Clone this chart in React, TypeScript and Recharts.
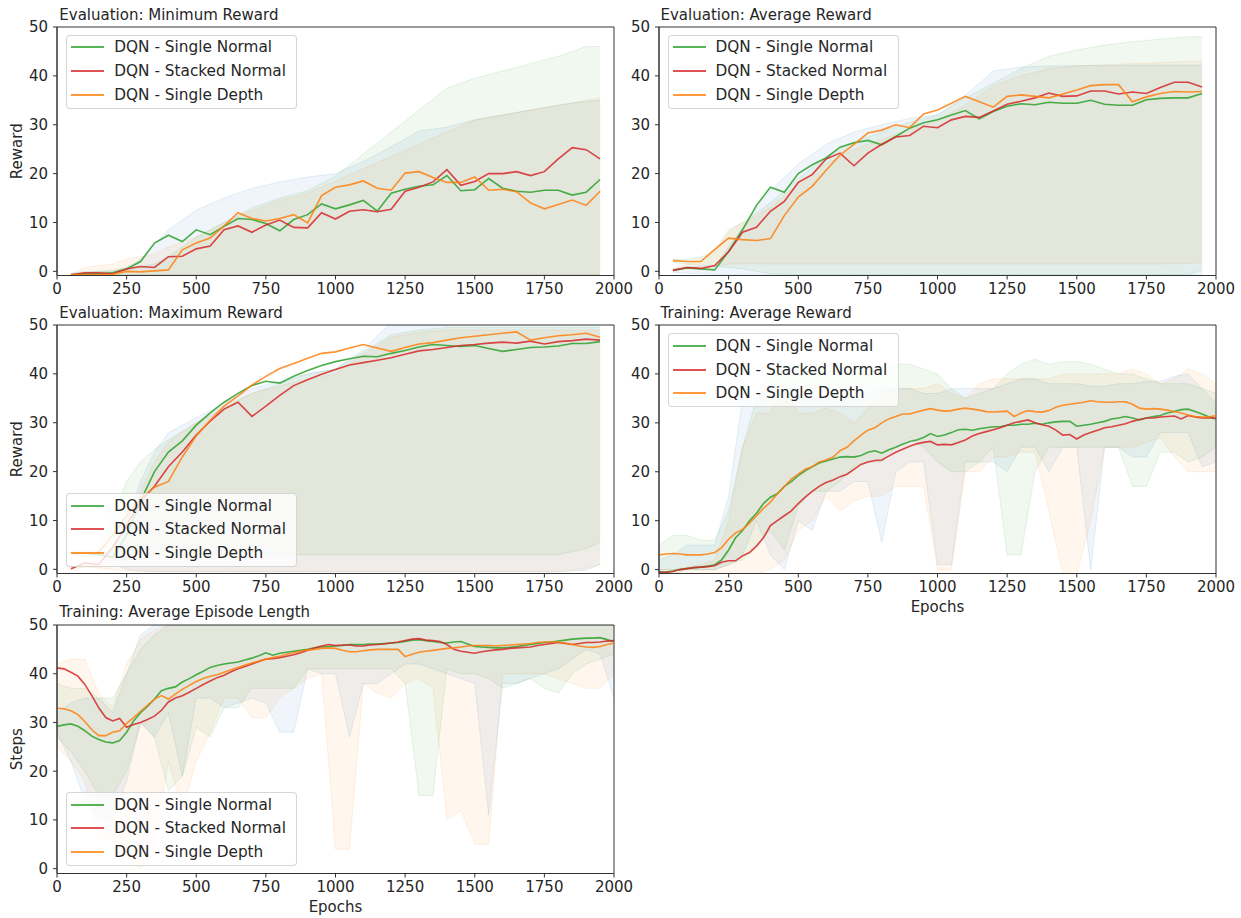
import { ComposedChart, Line, Area, XAxis, YAxis, Legend, ReferenceArea } from "recharts";

const FONT = "'DejaVu Sans', sans-serif";
const TEXT = "#262626";
const AXIS = "#333333";

const SERIES_NAMES = ["DQN - Single Normal", "DQN - Stacked Normal", "DQN - Single Depth"];
const LINE_COLORS = ["#2ca02c", "#d62728", "#ff7f0e"];
const BAND_COLORS = ["#1f77b4", "#ff7f0e", "#2ca02c"];

const X_TICKS = [0, 250, 500, 750, 1000, 1250, 1500, 1750, 2000];
const Y_TICKS = [0, 10, 20, 30, 40, 50];

// evaluation runs: one point every 50 epochs
const EVAL_EPOCHS = [50, 100, 150, 200, 250, 300, 350, 400, 450, 500, 550, 600, 650, 700, 750, 800, 850, 900, 950, 1000, 1050, 1100, 1150, 1200, 1250, 1300, 1350, 1400, 1450, 1500, 1550, 1600, 1650, 1700, 1750, 1800, 1850, 1900, 1950];
const EVAL_BAND_EPOCHS = [50, 100, 150, 200, 250, 300, 350, 400, 500, 600, 700, 800, 900, 1000, 1100, 1200, 1300, 1400, 1500, 1600, 1700, 1800, 1900, 1950];

const MIN_NORMAL = [-0.7, -0.5, -0.5, -0.3, 0.5, 2.0, 5.8, 7.4, 6.1, 8.5, 7.5, 9.2, 10.8, 10.6, 9.8, 8.3, 10.6, 11.6, 13.8, 12.8, 13.6, 14.5, 12.3, 16.0, 16.8, 17.4, 17.7, 19.6, 16.5, 16.7, 19.0, 17.0, 16.4, 16.2, 16.6, 16.6, 15.6, 16.2, 18.8];
const MIN_STACKED = [-0.7, -0.3, -0.3, -0.5, 0.5, 1.0, 0.8, 3.0, 3.1, 4.6, 5.2, 8.5, 9.3, 8.0, 9.5, 10.5, 9.0, 8.9, 12.0, 10.7, 12.3, 12.6, 12.2, 12.7, 16.4, 17.2, 18.3, 20.8, 17.6, 18.4, 20.0, 20.0, 20.4, 19.6, 20.4, 23.0, 25.3, 24.9, 23.0];
const MIN_DEPTH = [-0.7, -0.7, -0.7, -0.6, 0.0, -0.1, 0.1, 0.3, 4.4, 5.8, 6.8, 9.3, 12.0, 10.8, 10.3, 10.8, 11.6, 9.9, 15.5, 17.2, 17.7, 18.5, 17.0, 16.6, 20.1, 20.4, 19.2, 18.2, 18.2, 19.3, 16.6, 16.8, 16.3, 14.0, 12.8, 13.7, 14.6, 13.5, 16.4];
const MIN_NORMAL_HI = [-0.5, 0, 0, 0, 0.8, 2.5, 5.5, 8.5, 12.5, 15, 17, 18.3, 19.3, 20, 22.5, 25.5, 28.7, 29.5, 31, 32, 33, 34, 34.8, 35];
const MIN_STACKED_HI = [-0.5, 0.8, 1.2, 1.5, 2.5, 3, 3.5, 5, 7, 10, 12.5, 14.5, 16, 18.5, 21, 23.5, 26, 28.5, 31, 32, 33, 34, 35, 35.5];
const MIN_DEPTH_HI = [-0.5, -0.3, 0, 0.3, 0.8, 1, 1.5, 3, 7, 10, 13, 15, 16.5, 19.5, 24, 28.5, 33, 37.5, 39.5, 41, 42.5, 44, 46, 46];
const MIN_BAND_LO = [-0.7, -0.7, -0.7, -0.7, -0.7, -0.7, -0.7, -0.7, -0.7, -0.7, -0.7, -0.7, -0.7, -0.7, -0.7, -0.7, -0.7, -0.7, -0.7, -0.7, -0.7, -0.7, -0.7, -0.7];

const AVG_NORMAL = [0.2, 0.7, 0.5, 0.3, 4.1, 8.5, 13.5, 17.2, 16.2, 20.0, 21.8, 23.2, 25.4, 26.3, 26.8, 25.9, 27.6, 29.3, 30.4, 31.0, 32.0, 32.9, 31.2, 32.7, 33.8, 34.3, 34.1, 34.6, 34.4, 34.4, 35.0, 34.2, 34.0, 34.0, 35.1, 35.4, 35.5, 35.5, 36.4];
const AVG_STACKED = [0.2, 0.8, 0.6, 1.2, 4.0, 8.0, 9.0, 12.3, 14.3, 18.2, 19.8, 23.0, 24.2, 21.6, 24.2, 26.0, 27.5, 27.8, 29.7, 29.4, 31.0, 31.7, 31.5, 32.8, 34.2, 34.8, 35.5, 36.5, 35.8, 35.9, 36.9, 36.9, 36.3, 36.7, 36.4, 37.6, 38.7, 38.7, 37.7];
const AVG_DEPTH = [2.2, 2.0, 2.0, 4.5, 6.8, 6.5, 6.3, 6.7, 11.4, 15.2, 17.4, 20.7, 23.8, 26.0, 28.3, 28.9, 30.0, 29.4, 32.2, 33.0, 34.4, 35.8, 34.7, 33.6, 35.8, 36.1, 35.8, 35.5, 36.3, 37.1, 38.0, 38.2, 38.2, 34.7, 35.7, 36.4, 36.8, 36.7, 36.8];
const AVG_NORMAL_HI = [0.5, 1, 1, 1, 5, 9, 13, 16.5, 22, 26, 28.5, 30, 31.3, 32, 36, 41, 41.8, 42, 42.1, 42.1, 42.2, 42.2, 42.2, 42.2];
const AVG_NORMAL_LO = [-0.2, -0.4, -0.5, -0.6, -0.7, -0.7, -0.7, -0.7, -0.7, -0.7, -0.7, -0.7, -0.7, -0.7, -0.7, -0.7, -0.7, -0.7, -0.7, -0.7, -0.7, -0.7, -0.7, -0.7];
const AVG_STACKED_HI = [0.5, 1.5, 2, 4, 8, 10, 11.5, 13, 18, 22, 25, 27, 29, 31, 34, 38, 40, 41.5, 42, 42.3, 42.5, 42.7, 43, 43];
const AVG_STACKED_LO = [0, 0.5, 0.5, 1, 1.5, 1.5, 1.5, 1.5, 1.5, 1.5, 1.5, 1.5, 1.5, 1.5, 1.5, 1.5, 1.5, 1.5, 1.5, 1.5, 1.5, 1.5, 1.6, 1.8];
const AVG_DEPTH_HI = [2.5, 2.5, 3, 4, 8.5, 10, 12, 14, 19, 23.5, 26.5, 28.5, 30.5, 32, 35.5, 38.5, 41.5, 44, 45.3, 46.3, 47, 47.5, 48, 48];
const AVG_DEPTH_LO = [1.8, 1.5, 1.2, 1, 0.8, 0.5, 0, -0.5, -0.7, -0.7, -0.7, -0.7, -0.7, -0.7, -0.7, -0.7, -0.7, -0.7, -0.7, -0.7, -0.7, -0.7, -0.7, 0.2];

const MAX_NORMAL = [3.4, 3.3, 3.0, 2.5, 7.0, 14.0, 20.0, 24.0, 26.3, 29.5, 32.0, 34.2, 36.0, 37.6, 38.5, 38.1, 39.5, 40.7, 41.7, 42.5, 43.1, 43.6, 43.5, 44.2, 44.8, 45.5, 46.0, 45.8, 45.6, 45.8, 45.2, 44.6, 45.0, 45.4, 45.5, 45.7, 46.2, 46.2, 46.6];
const MAX_STACKED = [0.1, 1.3, 1.0, 4.5, 9.0, 14.0, 17.0, 21.0, 24.0, 27.5, 30.3, 32.8, 34.2, 31.3, 33.4, 35.6, 37.6, 38.8, 39.9, 40.9, 41.8, 42.3, 42.8, 43.3, 44.0, 44.7, 45.0, 45.4, 45.8, 46.0, 46.3, 46.5, 46.3, 46.7, 46.1, 46.6, 46.8, 47.1, 46.9];
const MAX_DEPTH = [3.3, 3.3, 3.5, 7.0, 11.0, 14.5, 16.8, 18.0, 23.0, 27.3, 30.5, 33.4, 35.5, 37.7, 39.5, 41.1, 42.1, 43.2, 44.2, 44.5, 45.3, 46.0, 45.3, 44.6, 45.4, 46.1, 46.4, 46.9, 47.4, 47.7, 48.0, 48.3, 48.6, 46.9, 47.4, 47.8, 48.0, 48.3, 47.5];
const MAX_NORMAL_HI = [3.5, 3.5, 3.5, 4, 10, 18, 24, 28, 31, 34, 37, 38.5, 40, 41, 45, 50.5, 50.5, 50.5, 50.5, 50.5, 50.5, 50.5, 50.5, 50.5];
const MAX_NORMAL_LO = [3.2, 3.0, 2.8, 1.0, 0, -0.3, -0.5, -0.5, -0.5, -0.5, -0.5, -0.5, -0.5, -0.5, -0.5, -0.5, -0.5, -0.5, -0.5, -0.5, -0.5, -0.5, -0.2, 1.0];
const MAX_STACKED_HI = [0.5, 1.5, 1.5, 5, 10, 16, 22, 26, 30, 33.5, 36, 37.5, 39, 40, 44, 47.5, 48.5, 49, 49, 49, 49, 49, 49, 49];
const MAX_STACKED_LO = [-0.2, 0.5, 0.3, 0, -0.3, -0.5, -0.5, -0.5, -0.5, -0.5, -0.5, -0.5, -0.5, -0.5, -0.5, -0.5, -0.5, -0.5, -0.5, -0.5, -0.5, -0.5, 0.2, 1.0];
const MAX_DEPTH_HI = [3.6, 3.8, 4, 11, 18, 22, 24.5, 26.5, 30, 33, 36, 38, 40, 41, 44.5, 48, 49, 49.5, 49.5, 49.5, 49.5, 49.5, 49.5, 49.5];
const MAX_DEPTH_LO = [3.2, 3.3, 3.3, 3.3, 3.1, 3.0, 3.0, 3.0, 3.0, 3.0, 3.0, 3.0, 3.0, 3.0, 3.0, 3.0, 3.0, 3.0, 3.0, 3.0, 3.0, 3.0, 4.2, 5.5];

// training curves: smoothed, read every 25 epochs
const TRAIN_EPOCHS = [0, 25, 50, 75, 100, 125, 150, 175, 200, 225, 250, 275, 300, 325, 350, 375, 400, 425, 450, 475, 500, 525, 550, 575, 600, 625, 650, 675, 700, 725, 750, 775, 800, 825, 850, 875, 900, 925, 950, 975, 1000, 1025, 1050, 1075, 1100, 1125, 1150, 1175, 1200, 1225, 1250, 1275, 1300, 1325, 1350, 1375, 1400, 1425, 1450, 1475, 1500, 1525, 1550, 1575, 1600, 1625, 1650, 1675, 1700, 1725, 1750, 1775, 1800, 1825, 1850, 1875, 1900, 1925, 1950, 1975, 2000];
const TRAIN_BAND_EPOCHS = [0, 50, 100, 150, 200, 250, 300, 350, 400, 450, 500, 550, 600, 650, 700, 750, 800, 850, 900, 950, 1000, 1050, 1100, 1150, 1200, 1250, 1300, 1350, 1400, 1450, 1500, 1550, 1600, 1650, 1700, 1750, 1800, 1850, 1900, 1950, 2000];

const TR_REWARD_NORMAL = [-0.5, -0.5, -0.3, 0, 0.2, 0.4, 0.5, 0.7, 1.0, 2.0, 4.0, 6.5, 8.0, 10.0, 11.5, 13.5, 14.8, 15.5, 17.0, 18.0, 19.2, 20.2, 21.0, 21.8, 22.2, 22.6, 23.0, 23.1, 23.0, 23.3, 24.0, 24.3, 23.8, 24.5, 25.0, 25.6, 26.2, 26.5, 27.0, 27.8, 27.2, 27.5, 28.0, 28.6, 28.7, 28.5, 28.8, 29.0, 29.2, 29.2, 29.5, 29.5, 29.7, 29.7, 29.9, 29.7, 30.0, 30.2, 30.3, 30.3, 29.3, 29.5, 29.7, 30.0, 30.3, 30.8, 31.0, 31.3, 31.0, 30.6, 31.0, 31.3, 31.5, 32.0, 32.3, 32.7, 32.8, 32.3, 31.8, 31.2, 30.8];
const TR_REWARD_STACKED = [-0.5, -0.6, -0.4, 0, 0.2, 0.4, 0.5, 0.6, 0.8, 1.5, 1.8, 1.8, 2.8, 3.5, 4.8, 6.5, 9.0, 10.0, 11.0, 12.0, 13.5, 14.8, 16.0, 17.0, 17.8, 18.3, 19.0, 19.5, 20.5, 21.5, 22.0, 22.3, 22.4, 23.2, 24.0, 24.6, 25.2, 25.7, 26.0, 26.2, 25.5, 25.6, 25.5, 26.0, 26.5, 27.3, 27.8, 28.2, 28.6, 29.0, 29.5, 30.0, 30.3, 30.6, 30.0, 29.6, 29.3, 28.5, 27.5, 27.6, 26.7, 27.5, 28.0, 28.5, 29.0, 29.2, 29.5, 29.8, 30.3, 30.7, 31.0, 31.0, 31.2, 31.3, 31.4, 30.8, 31.5, 31.2, 31.0, 31.0, 31.0];
const TR_REWARD_DEPTH = [3.0, 3.2, 3.3, 3.2, 3.0, 3.0, 3.0, 3.2, 3.5, 4.5, 6.2, 7.5, 8.2, 9.5, 11.0, 12.5, 13.8, 15.5, 17.0, 18.5, 19.5, 20.5, 21.0, 22.0, 22.4, 23.0, 24.3, 25.0, 26.3, 27.5, 28.5, 29.0, 30.0, 30.8, 31.3, 31.8, 31.8, 32.2, 32.6, 32.9, 32.6, 32.4, 32.5, 32.8, 33.0, 32.8, 32.6, 32.3, 32.2, 32.3, 32.4, 31.3, 32.0, 32.5, 32.3, 32.2, 32.5, 33.2, 33.6, 33.8, 34.0, 34.2, 34.5, 34.3, 34.2, 34.2, 34.3, 34.3, 33.8, 33.0, 32.8, 32.9, 32.8, 32.6, 32.3, 32.0, 31.6, 31.3, 31.2, 31.2, 31.5];
const TR_REWARD_NORMAL_HI = [2, 3, 5, 5, 5, 15, 35, 35, 38, 36, 36, 35, 35, 34, 35, 36, 37, 37, 37, 36, 36, 37, 37, 37, 37, 38, 39, 39, 38, 38, 38, 37.5, 37.5, 38, 38, 38.5, 38.5, 39.5, 40, 37, 34];
const TR_REWARD_NORMAL_LO = [-1, -1, 0, 0, 0, 1, 3, 10, 3, 0, 10, 8, 16, 16, 18, 18, 5.5, 20, 22, 22, 1, 1, 22, 22, 22, 20, 25, 25, 20, 25, 25, 0, 25, 25, 23, 23, 28, 28, 28, 21, 22];
const TR_REWARD_STACKED_HI = [0, 0, 0.5, 1, 2, 10, 25, 32, 32, 38, 32, 32, 33, 32, 30, 33, 36, 37, 37, 37, 38, 36, 35, 38, 39, 39, 39, 39, 39, 40, 40, 40, 40, 40, 41, 40, 38, 39, 41, 40, 38];
const TR_REWARD_STACKED_LO = [-1, -1, -1, -1, -1, -1, -1, -1, 0, 2, 8, 10, 15, 12, 14, 15, 15, 17, 17, 17, 0, 0, 20, 20, 23, 23, 24, 24, 12, -1, -1, 10, 25, 25, 25, 26, 27, 23, 20, 20, 20];
const TR_REWARD_DEPTH_HI = [5, 7, 7, 6, 6, 12, 25, 35, 42, 42, 42, 42, 42, 42, 42, 42, 42, 42, 42, 41, 40, 37, 35, 36, 37, 40, 42, 43, 42, 42.5, 42.5, 42, 41, 40, 40, 39, 38, 38, 38, 37, 36];
const TR_REWARD_DEPTH_LO = [0, 0, 0, 0, 0, 1, 2, 5, 8, 4, 13, 16, 16, 18, 21, 22, 22, 25, 27, 25, 22, 20, 20, 22, 25, 3, 3, 20, 25, 25, 25, 25, 25, 25, 17, 17, 24, 24, 22, 23, 25];

const TR_LENGTH_NORMAL = [29.2, 29.5, 29.7, 29.2, 28.3, 27.2, 26.5, 26.0, 25.8, 26.3, 28.0, 30.3, 32.0, 33.3, 34.8, 36.5, 37.0, 37.3, 38.3, 39.0, 39.8, 40.5, 41.3, 41.7, 42.0, 42.2, 42.4, 42.8, 43.2, 43.7, 44.3, 43.8, 44.2, 44.4, 44.6, 44.8, 45.0, 45.3, 45.5, 45.6, 45.7, 45.8, 46.0, 46.0, 46.0, 46.1, 46.1, 46.2, 46.3, 46.4, 46.6, 46.9, 47.0, 46.8, 46.6, 46.4, 46.3, 46.5, 46.6, 46.1, 45.6, 45.5, 45.4, 45.3, 45.3, 45.4, 45.6, 45.8, 46.0, 46.2, 46.4, 46.5, 46.7, 46.9, 47.1, 47.2, 47.3, 47.3, 47.4, 47.0, 46.6];
const TR_LENGTH_STACKED = [41.2, 41.0, 40.3, 39.5, 37.8, 35.5, 33.0, 31.0, 30.3, 30.8, 29.0, 29.6, 30.0, 30.6, 31.3, 32.5, 34.2, 35.0, 35.5, 36.2, 37.0, 37.8, 38.5, 39.2, 39.7, 40.4, 41.0, 41.5, 42.0, 42.5, 43.0, 43.1, 43.3, 43.6, 43.9, 44.3, 44.8, 45.3, 45.7, 46.0, 45.8, 45.9, 45.9, 45.7, 45.7, 45.9, 46.0, 46.1, 46.3, 46.5, 46.8, 47.1, 47.2, 46.9, 46.8, 46.6, 46.0, 45.0, 44.6, 44.4, 44.2, 44.5, 44.7, 44.9, 45.0, 45.2, 45.3, 45.4, 45.5, 45.8, 46.0, 46.2, 46.4, 46.2, 46.0, 46.2, 46.4, 46.4, 46.5, 46.7, 46.8];
const TR_LENGTH_DEPTH = [32.9, 32.8, 32.4, 31.6, 30.2, 28.5, 27.3, 27.3, 28.0, 28.3, 29.8, 31.0, 32.3, 33.5, 34.8, 35.5, 34.8, 35.8, 36.8, 37.6, 38.4, 39.0, 39.5, 39.8, 40.3, 40.8, 41.3, 41.8, 42.2, 42.6, 43.0, 43.3, 43.6, 44.0, 44.3, 44.6, 44.9, 45.0, 45.2, 45.3, 45.2, 44.8, 44.5, 44.5, 44.7, 44.9, 45.0, 45.0, 45.0, 45.0, 43.5, 44.0, 44.4, 44.6, 44.8, 45.0, 45.2, 45.3, 45.5, 45.7, 45.8, 45.8, 45.8, 45.7, 45.8, 45.9, 46.0, 46.1, 46.2, 46.4, 46.5, 46.5, 46.5, 46.3, 46.0, 45.7, 45.5, 45.4, 45.6, 46.0, 46.3];
const TR_LENGTH_NORMAL_HI = [32, 34, 35, 35, 32, 40, 48, 50, 50, 50, 50, 50, 50, 50, 50, 50, 50, 50, 50, 50, 50, 50, 50, 50, 50, 50, 50, 50, 50, 50, 50, 50, 50, 50, 50, 50, 50, 50, 50, 50, 50];
const TR_LENGTH_NORMAL_LO = [28, 22, 14, 10, 10, 18, 30, 27, 32, 19, 35, 35, 33, 34, 35, 34, 28, 28, 41, 40, 40, 27, 38, 38, 40, 42, 42, 41, 40, 39, 38, 11, 38, 38, 39, 40, 41, 43, 45, 44, 35];
const TR_LENGTH_STACKED_HI = [42, 43, 43, 36, 33, 42, 47, 49, 50, 50, 50, 50, 50, 50, 50, 50, 50, 50, 50, 50, 50, 50, 50, 50, 50, 50, 50, 50, 50, 50, 50, 50, 50, 50, 50, 50, 50, 50, 50, 50, 50];
const TR_LENGTH_STACKED_LO = [25, 22, 18, 6, 6, 2, 0, 5, 22, 12, 22, 28, 35, 35, 31, 31, 35, 37, 39, 40, 4, 4, 38, 36, 35, 38, 39, 37, 10, 12, 5, 5, 40, 40, 40, 40, 39, 38, 37, 37, 40];
const TR_LENGTH_DEPTH_HI = [38, 37, 37, 35, 35, 40, 45, 48, 50, 50, 50, 50, 50, 50, 50, 50, 50, 50, 50, 50, 50, 50, 50, 50, 50, 50, 50, 50, 50, 50, 50, 50, 50, 50, 50, 50, 50, 50, 50, 50, 50];
const TR_LENGTH_DEPTH_LO = [27, 24, 20, 15, 15, 20, 30, 27, 16, 19, 29, 27, 33, 33, 37, 37, 37, 37, 41, 41, 41, 41, 41, 41, 41, 38, 15, 15, 41, 40, 40, 39, 37, 38, 39, 37, 36, 40, 42, 43, 44];

type Point = { x: number; y: number };
type BandPoint = { x: number; lo: number; hi: number };

const toPoints = (xs: number[], ys: number[]): Point[] => xs.map((x, i) => ({ x, y: ys[i] }));
const toBand = (xs: number[], lo: number[], hi: number[]): BandPoint[] =>
  xs.map((x, i) => ({ x, lo: lo[i], hi: hi[i] }));
const bandKey = (d: BandPoint) => [d.lo, d.hi];

// plot box geometry (pixels)
const PLOT_W = 557;
const PLOT_H = 248.5;
const ML = 57;
const MT = 12;
const MR = 26;
const MB = 46;
const LEGEND_W = 231;
const LEGEND_H = 74;

const tickStyle = { fill: TEXT, fontSize: 15, fontFamily: FONT };

function LegendBox() {
  return (
    <div
      style={{
        boxSizing: "border-box",
        width: LEGEND_W,
        height: LEGEND_H,
        border: "1px solid rgba(204,204,204,0.8)",
        borderRadius: 4,
        background: "rgba(255,255,255,0.8)",
        fontFamily: FONT,
        fontSize: 15.3,
        color: TEXT,
      }}
    >
      {SERIES_NAMES.map((name, i) => (
        <div key={name} style={{ display: "flex", alignItems: "center", height: 23.6 }}>
          <div
            style={{
              marginLeft: 4,
              width: 33,
              height: 0,
              borderTop: `2px solid ${LINE_COLORS[i]}`,
              opacity: 0.8,
            }}
          />
          <span style={{ marginLeft: 10, whiteSpace: "nowrap" }}>{name}</span>
        </div>
      ))}
    </div>
  );
}

type PanelProps = {
  plotLeft: number;
  plotTop: number;
  yMin: number;
  title: string;
  yLabel?: string;
  xLabel?: string;
  legendAt: "top" | "bottom";
  lines: Point[][];
  bands: BandPoint[][];
};

function Panel({ plotLeft, plotTop, yMin, title, yLabel, xLabel, legendAt, lines, bands }: PanelProps) {
  const legendTop = legendAt === "top" ? MT + 8 : MT + PLOT_H - 7 - LEGEND_H;
  return (
    <div style={{ position: "absolute", left: plotLeft - ML, top: plotTop - MT }}>
      <ComposedChart
        width={ML + PLOT_W + MR}
        height={MT + PLOT_H + MB}
        margin={{ top: MT, right: MR, bottom: 0, left: 0 }}
      >
        <XAxis
          type="number"
          dataKey="x"
          domain={[0, 2000]}
          allowDataOverflow
          ticks={X_TICKS}
          interval={0}
          height={MB}
          tickSize={4}
          tickMargin={4}
          stroke={AXIS}
          tick={tickStyle}
          label={
            xLabel
              ? { value: xLabel, position: "insideBottom", offset: 8, fill: TEXT, fontSize: 15, fontFamily: FONT }
              : undefined
          }
        />
        <YAxis
          type="number"
          domain={[yMin, 50]}
          allowDataOverflow
          ticks={Y_TICKS}
          interval={0}
          width={ML}
          tickSize={4}
          tickMargin={5}
          stroke={AXIS}
          tick={tickStyle}
          label={
            yLabel
              ? {
                  value: yLabel,
                  angle: -90,
                  position: "insideLeft",
                  offset: 17,
                  fill: TEXT,
                  fontSize: 15,
                  fontFamily: FONT,
                  style: { textAnchor: "middle" },
                }
              : undefined
          }
        />
        {bands.map((b, i) => (
          <Area
            key={`band-${i}`}
            data={b}
            dataKey={bandKey}
            type="linear"
            fill={BAND_COLORS[i]}
            fillOpacity={0.07}
            stroke={BAND_COLORS[i]}
            strokeOpacity={0.1}
            strokeWidth={1}
            dot={false}
            activeDot={false}
            isAnimationActive={false}
          />
        ))}
        {lines.map((l, i) => (
          <Line
            key={`line-${i}`}
            data={l}
            dataKey="y"
            type="linear"
            stroke={LINE_COLORS[i]}
            strokeOpacity={0.85}
            strokeWidth={1.6}
            dot={false}
            activeDot={false}
            isAnimationActive={false}
          />
        ))}
        {/* box frame around the plot, like matplotlib spines */}
        <ReferenceArea x1={0} x2={2000} y1={yMin} y2={50} fill="none" stroke={AXIS} strokeWidth={1} />
        <Legend
          layout="vertical"
          align="center"
          verticalAlign="middle"
          content={() => <LegendBox />}
          wrapperStyle={{ left: ML + 9, top: legendTop, width: LEGEND_W, height: LEGEND_H }}
        />
      </ComposedChart>
      <div
        style={{
          position: "absolute",
          left: ML + 2,
          top: MT - 7 - 13.2,
          fontFamily: FONT,
          fontSize: 15,
          lineHeight: "16px",
          color: TEXT,
          whiteSpace: "nowrap",
        }}
      >
        {title}
      </div>
    </div>
  );
}

export default function App() {
  return (
    <div style={{ position: "absolute", left: 0, top: 0, width: 1241, height: 918, background: "#fff" }}>
      <Panel
        plotLeft={57.3}
        plotTop={26.7}
        yMin={-0.85}
        title="Evaluation: Minimum Reward"
        yLabel="Reward"
        legendAt="top"
        lines={[
          toPoints(EVAL_EPOCHS, MIN_NORMAL),
          toPoints(EVAL_EPOCHS, MIN_STACKED),
          toPoints(EVAL_EPOCHS, MIN_DEPTH),
        ]}
        bands={[
          toBand(EVAL_BAND_EPOCHS, MIN_BAND_LO, MIN_NORMAL_HI),
          toBand(EVAL_BAND_EPOCHS, MIN_BAND_LO, MIN_STACKED_HI),
          toBand(EVAL_BAND_EPOCHS, MIN_BAND_LO, MIN_DEPTH_HI),
        ]}
      />
      <Panel
        plotLeft={658.5}
        plotTop={26.7}
        yMin={-0.85}
        title="Evaluation: Average Reward"
        legendAt="top"
        lines={[
          toPoints(EVAL_EPOCHS, AVG_NORMAL),
          toPoints(EVAL_EPOCHS, AVG_STACKED),
          toPoints(EVAL_EPOCHS, AVG_DEPTH),
        ]}
        bands={[
          toBand(EVAL_BAND_EPOCHS, AVG_NORMAL_LO, AVG_NORMAL_HI),
          toBand(EVAL_BAND_EPOCHS, AVG_STACKED_LO, AVG_STACKED_HI),
          toBand(EVAL_BAND_EPOCHS, AVG_DEPTH_LO, AVG_DEPTH_HI),
        ]}
      />
      <Panel
        plotLeft={57.3}
        plotTop={325.3}
        yMin={-0.85}
        title="Evaluation: Maximum Reward"
        yLabel="Reward"
        legendAt="bottom"
        lines={[
          toPoints(EVAL_EPOCHS, MAX_NORMAL),
          toPoints(EVAL_EPOCHS, MAX_STACKED),
          toPoints(EVAL_EPOCHS, MAX_DEPTH),
        ]}
        bands={[
          toBand(EVAL_BAND_EPOCHS, MAX_NORMAL_LO, MAX_NORMAL_HI),
          toBand(EVAL_BAND_EPOCHS, MAX_STACKED_LO, MAX_STACKED_HI),
          toBand(EVAL_BAND_EPOCHS, MAX_DEPTH_LO, MAX_DEPTH_HI),
        ]}
      />
      <Panel
        plotLeft={658.5}
        plotTop={325.3}
        yMin={-0.8}
        title="Training: Average Reward"
        xLabel="Epochs"
        legendAt="top"
        lines={[
          toPoints(TRAIN_EPOCHS, TR_REWARD_NORMAL),
          toPoints(TRAIN_EPOCHS, TR_REWARD_STACKED),
          toPoints(TRAIN_EPOCHS, TR_REWARD_DEPTH),
        ]}
        bands={[
          toBand(TRAIN_BAND_EPOCHS, TR_REWARD_NORMAL_LO, TR_REWARD_NORMAL_HI),
          toBand(TRAIN_BAND_EPOCHS, TR_REWARD_STACKED_LO, TR_REWARD_STACKED_HI),
          toBand(TRAIN_BAND_EPOCHS, TR_REWARD_DEPTH_LO, TR_REWARD_DEPTH_HI),
        ]}
      />
      <Panel
        plotLeft={57.3}
        plotTop={624.5}
        yMin={-1}
        title="Training: Average Episode Length"
        yLabel="Steps"
        xLabel="Epochs"
        legendAt="bottom"
        lines={[
          toPoints(TRAIN_EPOCHS, TR_LENGTH_NORMAL),
          toPoints(TRAIN_EPOCHS, TR_LENGTH_STACKED),
          toPoints(TRAIN_EPOCHS, TR_LENGTH_DEPTH),
        ]}
        bands={[
          toBand(TRAIN_BAND_EPOCHS, TR_LENGTH_NORMAL_LO, TR_LENGTH_NORMAL_HI),
          toBand(TRAIN_BAND_EPOCHS, TR_LENGTH_STACKED_LO, TR_LENGTH_STACKED_HI),
          toBand(TRAIN_BAND_EPOCHS, TR_LENGTH_DEPTH_LO, TR_LENGTH_DEPTH_HI),
        ]}
      />
    </div>
  );
}
